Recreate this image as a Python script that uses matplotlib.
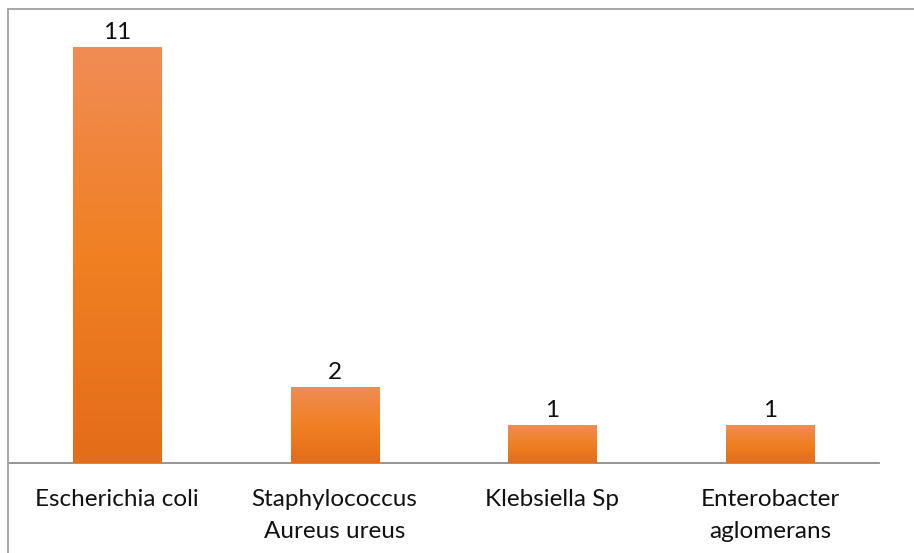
import matplotlib
matplotlib.use("Agg")
import matplotlib.pyplot as plt
import numpy as np
from matplotlib.colors import LinearSegmentedColormap
from matplotlib.lines import Line2D

# Isolated organisms and counts
organisms = ["Escherichia coli", "Staphylococcus\nAureus ureus", "Klebsiella Sp", "Enterobacter\naglomerans"]
counts = [11, 2, 1, 1]

plt.rcParams['font.family'] = ['Lato', 'DejaVu Sans']

fig = plt.figure(figsize=(9.14, 5.53), dpi=100)
W, H = 914, 553
ax = fig.add_axes([8 / W, (H - 463) / H, 871 / W, (463 - 9.4) / H])

x = np.arange(len(organisms))
bars = ax.bar(x, counts, width=0.405, color="#EE7D31", zorder=2)

# vertical orange gradient: lighter at the top, darker at the base
grad = LinearSegmentedColormap.from_list("org", ["#E46C1A", "#F08022", "#F08C55"])
ramp = np.linspace(0, 1, 256).reshape(-1, 1)
for b in bars:
    x0, y0 = b.get_x(), b.get_y()
    w, h = b.get_width(), b.get_height()
    im = ax.imshow(ramp, cmap=grad, aspect="auto", origin="lower",
                   extent=(x0, x0 + w, y0, y0 + h), zorder=3)
    im.set_clip_path(b)
    b.set_facecolor("none")

for xi, v in zip(x, counts):
    ax.annotate(str(v), (xi, v), xytext=(0, 3), textcoords="offset points",
                ha="center", va="bottom", fontsize=17.5, color="#111111")

ax.set_xlim(-0.5, len(organisms) - 0.5)
ax.set_ylim(0, 12)
ax.set_yticks([])
ax.set_xticks(x)
ax.set_xticklabels(organisms, fontsize=17.5, color="#111111", linespacing=1.65)
ax.tick_params(axis="x", length=0, pad=19)
for s in ("top", "right"):
    ax.spines[s].set_visible(False)
ax.spines["left"].set_visible(False)
ax.spines["bottom"].set_color("#8C8C8C")
ax.spines["bottom"].set_linewidth(1.3)

# chart frame along the top and left edges
fig.add_artist(Line2D([8 / W, 1], [1 - 8.5 / H, 1 - 8.5 / H], color="#A6A6A6", lw=1.4))
fig.add_artist(Line2D([8 / W, 8 / W], [0, 1 - 8.5 / H], color="#A6A6A6", lw=1.4))

fig.savefig("out.png", dpi=100)
